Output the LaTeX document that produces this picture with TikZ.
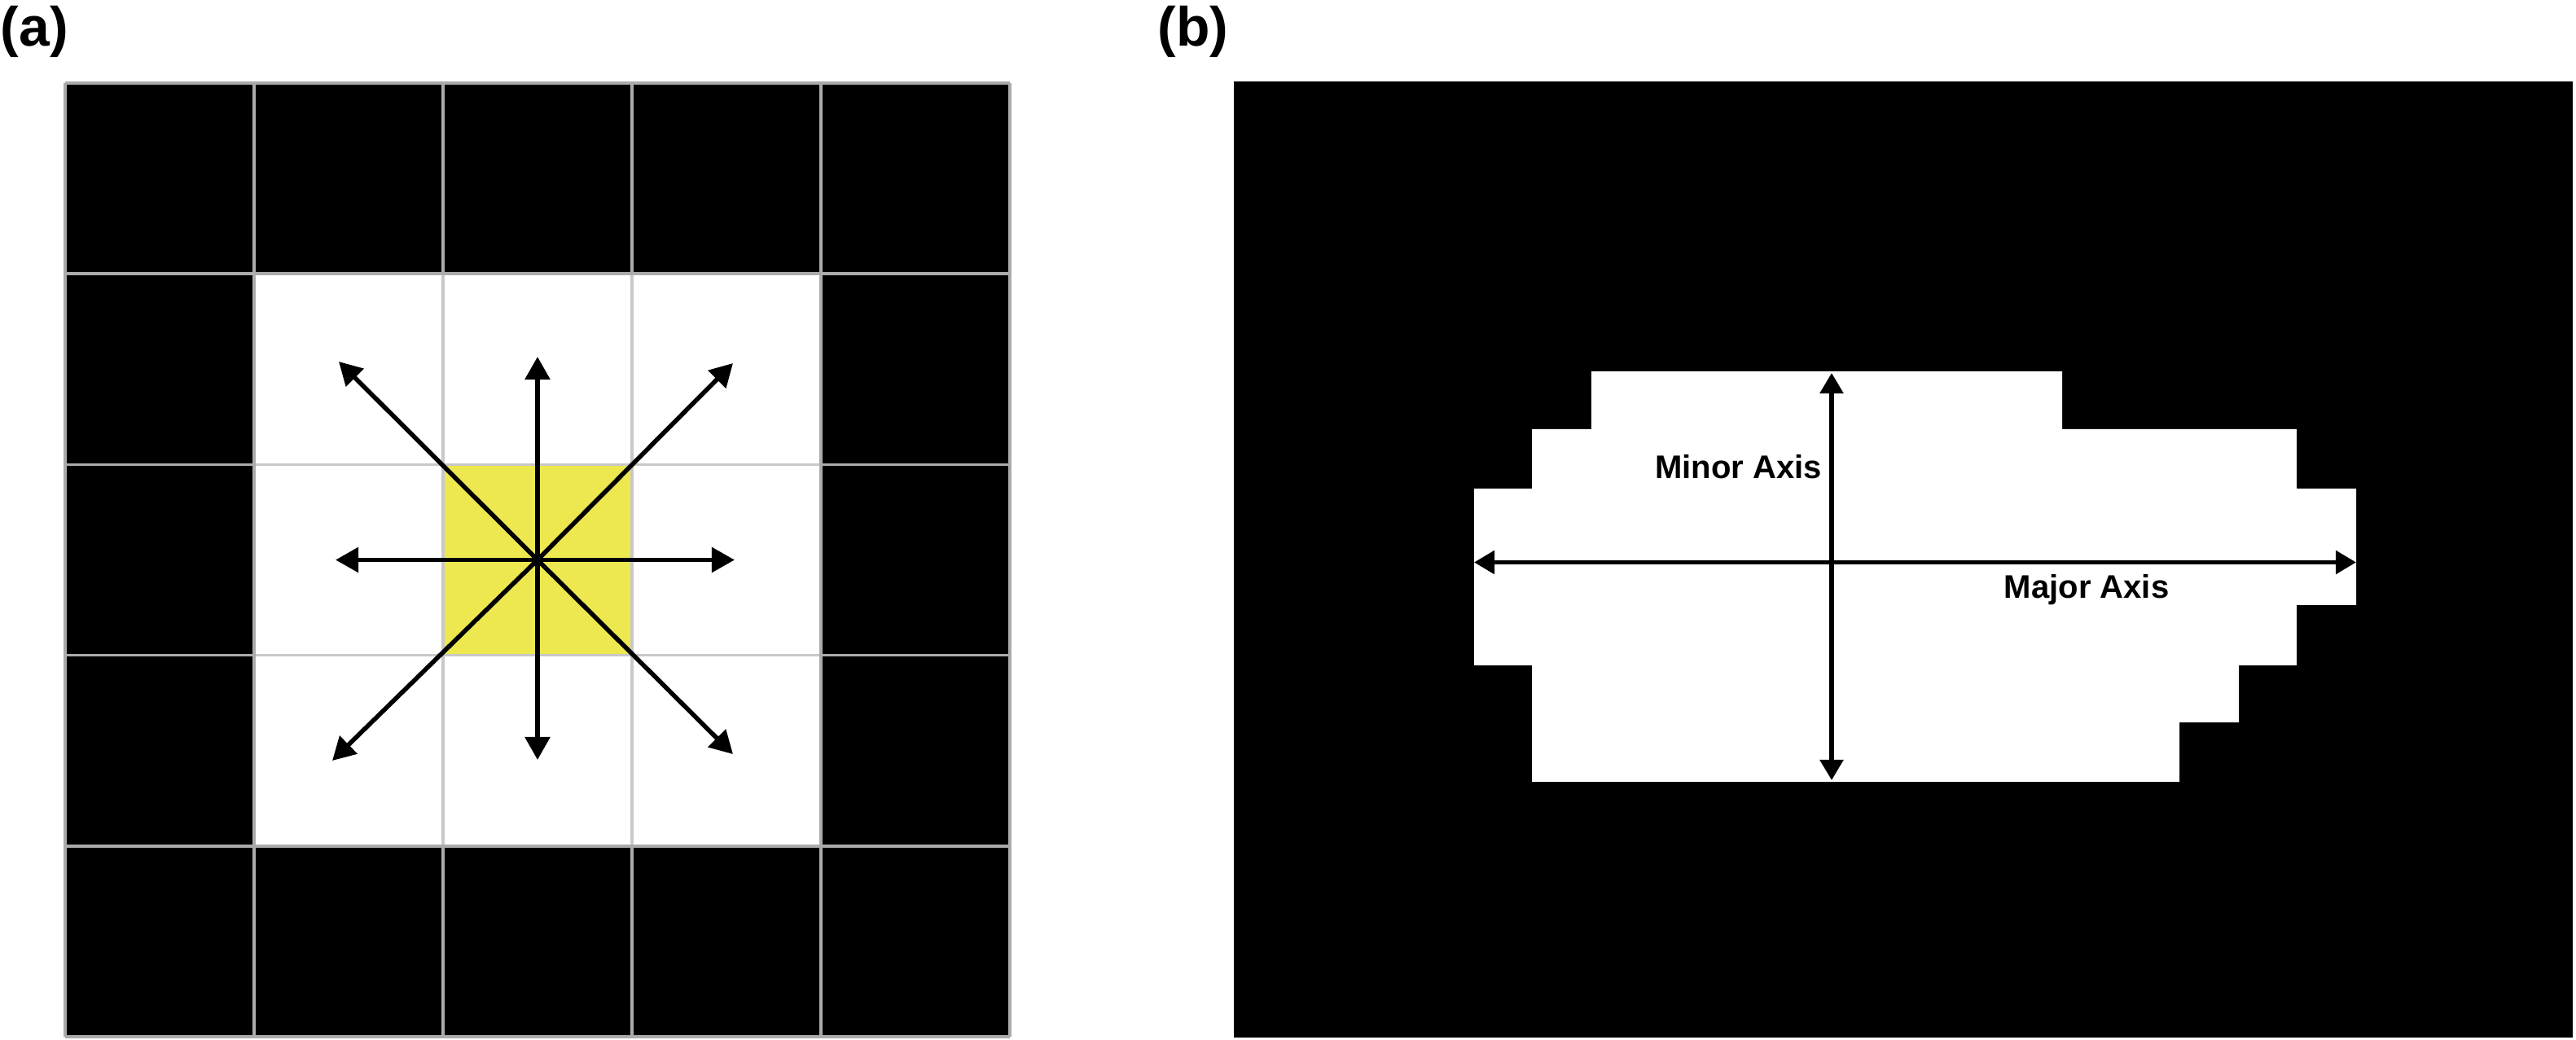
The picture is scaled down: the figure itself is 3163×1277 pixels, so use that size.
\documentclass[tikz,border=0pt]{standalone}
\usepackage{fontspec}
\setmainfont{Liberation Sans}
\usetikzlibrary{arrows.meta}
\definecolor{cellyellow}{HTML}{EDE84F}
\definecolor{gridgray}{HTML}{ABABAB}
\definecolor{innergray}{HTML}{C8C8C8}
\begin{document}
\begin{tikzpicture}[x=0.01cm,y=-0.01cm,
  panellabel/.style={font=\fontsize{19.3pt}{22pt}\selectfont\bfseries, inner sep=0pt, anchor=base west},
  axislabel/.style={font=\fontsize{11.4pt}{13pt}\selectfont\bfseries, inner sep=0pt},
  dirarrow/.style={line width=0.055cm, -{Triangle[length=0.28cm,width=0.3cm]}},
  axisarrow/.style={line width=0.055cm, {Triangle[length=0.25cm,width=0.28cm]}-{Triangle[length=0.25cm,width=0.28cm]}},
  gridline/.style={gridgray, line width=0.035cm},
  innerline/.style={innergray, line width=0.035cm}]
\useasboundingbox (0,0) rectangle (3163,1277);

% ---------- panel labels
\node[panellabel] (la) at (0,57) {(a)};
\node[panellabel] (lb) at (1421,57) {(b)};

% ---------- panel (a): 5x5 grid
\fill[black] (80,102) rectangle (1240,1273);
\fill[white] (312,336.2) rectangle (1008,1038.8);
\fill[cellyellow] (544,570.4) rectangle (776,804.6);
% inner grid lines
\foreach \x in {544,776} \draw[innerline] (\x,336.2) -- (\x,1038.8);
\foreach \y in {570.4,804.6} \draw[innerline] (312,\y) -- (1008,\y);
% outer grid lines
\foreach \x in {80,312,1008,1240} \draw[gridline] (\x,102) -- (\x,1273);
\foreach \x in {544,776} {
  \draw[gridline] (\x,102) -- (\x,336.2);
  \draw[gridline] (\x,1038.8) -- (\x,1273);
}
\foreach \y in {102,336.2,1038.8,1273} \draw[gridline] (80,\y) -- (1240,\y);
\foreach \y in {570.4,804.6} {
  \draw[gridline] (80,\y) -- (312,\y);
  \draw[gridline] (1008,\y) -- (1240,\y);
}

% arrows from the centre cell
\coordinate (ctr) at (660,687.5);
\coordinate (aN) at (660,438);
\coordinate (aS) at (660,933);
\coordinate (aW) at (412,687.5);
\coordinate (aE) at (902,687.5);
\coordinate (aNW) at (416,444);
\coordinate (aNE) at (900,446);
\coordinate (aSW) at (408,934);
\coordinate (aSE) at (900,926);
\foreach \t in {aN,aS,aW,aE,aNW,aNE,aSW,aSE}
  \draw[dirarrow] (ctr) -- (\t);

% ---------- panel (b)
\fill[black] (1515,100) rectangle (3159,1274);
\fill[white] (1954,456) -- (2532,456) -- (2532,527) -- (2820,527) -- (2820,600)
  -- (2893,600) -- (2893,743) -- (2820,743) -- (2820,817) -- (2749,817)
  -- (2749,887) -- (2676,887) -- (2676,960) -- (1881,960) -- (1881,817)
  -- (1810,817) -- (1810,600) -- (1881,600) -- (1881,527) -- (1954,527) -- cycle;

\coordinate (majL) at (1810,690.5);
\coordinate (majR) at (2893,690.5);
\coordinate (minT) at (2249,458);
\coordinate (minB) at (2249,958);
\draw[axisarrow] (majL) -- (majR);
\draw[axisarrow] (minT) -- (minB);

\node[axislabel, anchor=base east] (minlab) at (2238,588) {Minor Axis};
\node[axislabel, anchor=base west] (majlab) at (2460,735) {Major Axis};
\end{tikzpicture}
\end{document}
